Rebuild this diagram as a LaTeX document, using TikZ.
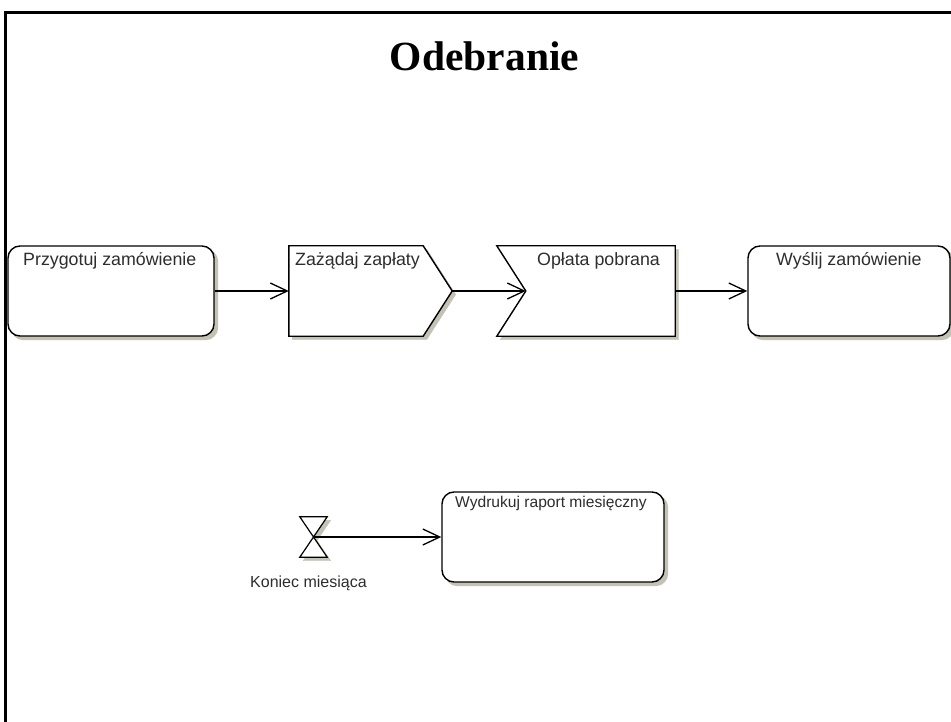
\documentclass[tikz,border=0pt]{standalone}
\usepackage{fontspec}
\setmainfont{Liberation Sans}
\newfontfamily\titlefont{Liberation Serif}
\usetikzlibrary{arrows.meta}
\definecolor{shadowc}{RGB}{196,194,180}
\definecolor{textc}{RGB}{45,45,45}
\tikzset{
  frame/.style={line width=3pt, line cap=rect},
  shadowed/.style={preaction={fill=shadowc, draw=shadowc,
      transform canvas={xshift=3.5pt, yshift=-3.5pt}}},
  outline/.style={draw=black, line width=1.4pt, fill=white, line join=miter, shadowed},
  actbox/.style={outline, rounded corners=12pt, inner sep=0pt},
  body/.style={inner sep=0pt, minimum height=90pt},
  lbl/.style={inner sep=0pt, anchor=base west, text=textc, font=\fontsize{17.8}{20}\selectfont},
  smalllbl/.style={lbl, font=\fontsize{16}{19}\selectfont},
  flow/.style={draw=black, line width=1.3pt, -{Straight Barb[length=17pt, width=16pt]}}
}
\begin{document}
\begin{tikzpicture}[x=1pt, y=-1pt]
\useasboundingbox (0,0) rectangle (951,722);

% page frame
\draw[frame] (5,722) -- (5,12.5) -- (951,12.5);

% title
\node[anchor=base, inner sep=0pt, font=\titlefont\bfseries\fontsize{41.5}{48}\selectfont] (title) at (484.5,71) {Odebranie};

% activity: prepare order
\node[actbox, minimum width=206pt, minimum height=90pt] (prep) at (111,291) {};
\node[lbl] (tprep) at (23,265.3) {Przygotuj zamówienie};

% send signal: request payment
\node[body, minimum width=163pt] (req) at (370.5,291) {};
\path[outline] (req.north west) -- ([xshift=-29pt]req.north east) -- (req.east)
  -- ([xshift=-29pt]req.south east) -- (req.south west) -- cycle;
\node[lbl] (treq) at (295,265.3) {Zażądaj zapłaty};

% accept event: payment received
\node[body, minimum width=178pt] (paid) at (586,291) {};
\coordinate (paidin) at ([xshift=29pt]paid.west);
\path[outline] (paid.north west) -- (paid.north east) -- (paid.south east)
  -- (paid.south west) -- (paidin) -- cycle;
\node[lbl] (tpaid) at (537,265.3) {Opłata pobrana};

% activity: ship order
\node[actbox, minimum width=202pt, minimum height=90pt] (ship) at (849,291) {};
\node[lbl] (tship) at (776,265.3) {Wyślij zamówienie};

% time event: end of month
\node[inner sep=0pt, minimum width=27pt, minimum height=40pt] (eom) at (313.5,537) {};
\path[outline, line width=1.2pt] (eom.north west) -- (eom.north east) -- (eom.south west)
  -- (eom.south east) -- cycle;
\node[smalllbl] (teom) at (250,587.5) {Koniec miesiąca};

% activity: print monthly report
\node[actbox, minimum width=222pt, minimum height=90pt] (report) at (553,537) {};
\node[smalllbl, font=\fontsize{15.6}{19}\selectfont] (treport) at (455,507.7) {Wydrukuj raport miesięczny};

% flows
\draw[flow] (prep.east) -- (req.west);
\draw[flow] (req.east) -- (paidin);
\draw[flow] (paid.east) -- (ship.west);
\draw[flow] (eom.center) -- (report.west);
\end{tikzpicture}
\end{document}
